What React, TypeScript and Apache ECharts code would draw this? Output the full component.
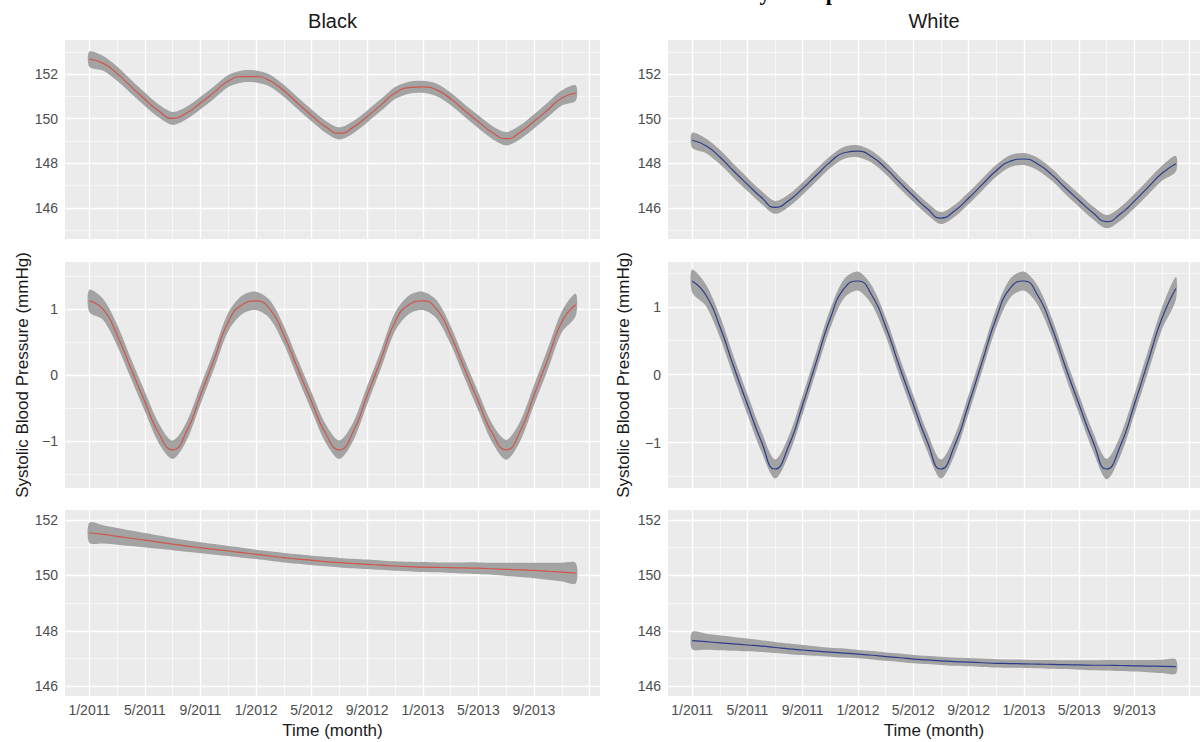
import React, { useEffect, useRef } from 'react';
import * as echarts from 'echarts';

// ---------- data ----------
const MONTHS = [
  '1/2011', '2/2011', '3/2011', '4/2011', '5/2011', '6/2011', '7/2011', '8/2011', '9/2011', '10/2011', '11/2011', '12/2011',
  '1/2012', '2/2012', '3/2012', '4/2012', '5/2012', '6/2012', '7/2012', '8/2012', '9/2012', '10/2012', '11/2012', '12/2012',
  '1/2013', '2/2013', '3/2013', '4/2013', '5/2013', '6/2013', '7/2013', '8/2013', '9/2013', '10/2013', '11/2013', '12/2013',
];
const X_TICK_POS = [0, 4, 8, 12, 16, 20, 24, 28, 32];
const X_TICK_LABELS = ['1/2011', '5/2011', '9/2011', '1/2012', '5/2012', '9/2012', '1/2013', '5/2013', '9/2013'];
const X_MAJOR_GRID = [0, 4, 8, 12, 16, 20, 24, 28, 32, 36];
const X_MINOR_GRID = [2, 6, 10, 14, 18, 22, 26, 30, 34];

const BLACK_OBSERVED = [
  152.67, 152.48, 152.02, 151.44, 150.87, 150.34, 150.01, 150.25, 150.70, 151.19, 151.69, 151.89,
  151.89, 151.70, 151.25, 150.69, 150.14, 149.64, 149.34, 149.62, 150.10, 150.62, 151.15, 151.39,
  151.43, 151.29, 150.89, 150.37, 149.86, 149.38, 149.10, 149.39, 149.88, 150.40, 150.93, 151.15,
];
const WHITE_OBSERVED = [
  149.03, 148.78, 148.28, 147.65, 147.05, 146.47, 146.02, 146.33, 146.87, 147.47, 148.06, 148.47,
  148.54, 148.29, 147.78, 147.15, 146.54, 145.97, 145.54, 145.87, 146.43, 147.05, 147.66, 148.09,
  148.19, 147.97, 147.50, 146.90, 146.33, 145.78, 145.38, 145.73, 146.30, 146.93, 147.55, 147.98,
];
const BLACK_SEASONAL = [
  1.13, 1.00, 0.61, 0.10, -0.40, -0.88, -1.13, -0.85, -0.30, 0.25, 0.81, 1.07,
  1.13, 1.00, 0.61, 0.10, -0.40, -0.88, -1.13, -0.85, -0.30, 0.25, 0.81, 1.07,
  1.13, 1.00, 0.61, 0.10, -0.40, -0.88, -1.13, -0.85, -0.30, 0.25, 0.81, 1.07,
];
const WHITE_SEASONAL = [
  1.38, 1.17, 0.71, 0.12, -0.44, -0.98, -1.39, -1.04, -0.44, 0.20, 0.83, 1.27,
  1.38, 1.17, 0.71, 0.12, -0.44, -0.98, -1.39, -1.04, -0.44, 0.20, 0.83, 1.27,
  1.38, 1.17, 0.71, 0.12, -0.44, -0.98, -1.39, -1.04, -0.44, 0.20, 0.83, 1.27,
];
const BLACK_TREND = [
  151.54, 151.48, 151.41, 151.34, 151.27, 151.20, 151.13, 151.06, 151.00, 150.94, 150.88, 150.82,
  150.76, 150.70, 150.64, 150.59, 150.54, 150.50, 150.46, 150.43, 150.40, 150.37, 150.34, 150.32,
  150.30, 150.29, 150.28, 150.27, 150.26, 150.24, 150.22, 150.20, 150.18, 150.15, 150.12, 150.08,
];
const WHITE_TREND = [
  147.65, 147.61, 147.57, 147.53, 147.49, 147.45, 147.40, 147.35, 147.31, 147.27, 147.23, 147.20,
  147.16, 147.12, 147.07, 147.03, 146.98, 146.95, 146.92, 146.89, 146.87, 146.85, 146.83, 146.82,
  146.81, 146.80, 146.79, 146.78, 146.77, 146.76, 146.76, 146.75, 146.74, 146.73, 146.72, 146.71,
];
// half widths of the grey confidence bands
const CI_OBSERVED = [
  0.34, 0.33, 0.32, 0.31, 0.30, 0.29, 0.29, 0.28, 0.28, 0.28, 0.27, 0.27,
  0.27, 0.27, 0.27, 0.27, 0.27, 0.27, 0.27, 0.27, 0.27, 0.27, 0.27, 0.27,
  0.27, 0.28, 0.28, 0.28, 0.29, 0.29, 0.30, 0.31, 0.32, 0.33, 0.34, 0.35,
];
const CI_SEASONAL = [
  0.17, 0.16, 0.16, 0.15, 0.15, 0.15, 0.14, 0.14, 0.14, 0.14, 0.14, 0.14,
  0.14, 0.14, 0.14, 0.14, 0.14, 0.14, 0.14, 0.14, 0.14, 0.14, 0.14, 0.14,
  0.14, 0.14, 0.14, 0.14, 0.14, 0.14, 0.15, 0.15, 0.15, 0.16, 0.16, 0.17,
];
const CI_TREND_BLACK = [
  0.36, 0.33, 0.30, 0.28, 0.26, 0.24, 0.22, 0.21, 0.20, 0.19, 0.18, 0.18,
  0.17, 0.17, 0.17, 0.17, 0.17, 0.17, 0.17, 0.17, 0.17, 0.17, 0.17, 0.17,
  0.18, 0.18, 0.19, 0.20, 0.21, 0.22, 0.24, 0.26, 0.28, 0.31, 0.34, 0.37,
];
const CI_TREND_WHITE = [
  0.31, 0.29, 0.27, 0.25, 0.23, 0.21, 0.20, 0.19, 0.18, 0.17, 0.16, 0.16,
  0.15, 0.15, 0.15, 0.15, 0.15, 0.15, 0.15, 0.15, 0.15, 0.15, 0.15, 0.15,
  0.15, 0.15, 0.16, 0.16, 0.17, 0.18, 0.19, 0.20, 0.21, 0.22, 0.24, 0.26,
];

const ROW1_TICKS = [146, 148, 150, 152];
const ROW1_MINOR = [145, 147, 149, 151, 153];
const ROW2_TICKS = [-1, 0, 1];
const ROW2_MINOR = [-1.5, -0.5, 0.5, 1.5];
const ROW3_TICKS = [146, 148, 150, 152];
const ROW3_MINOR = [147, 149, 151];

const GROUPS = ['Black', 'White'];

// ---------- style ----------
const FONT = '"Liberation Sans", Arial, Helvetica, sans-serif';
const PANEL_BG = '#ebebeb';
const BAND = '#a3a3a3';
const RED = '#d0554a';
const BLUE = '#2e3c8c';
const TICK_COLOR = '#4d4d4d';
const SMOOTH = 0.55;

type Panel = {
  grid: { left: number; top: number; width: number; height: number };
  yMin: number;
  yMax: number;
  mean: number[];
  ci: number[];
  color: string;
  yTicks: number[];
  yMinor: number[];
  showX: boolean;
};

const COLS = [
  { left: 65, width: 535 },
  { left: 668, width: 532 },
];
const ROWS = [
  { top: 40, height: 199 },
  { top: 262, height: 226 },
  { top: 510, height: 186 },
];

const PANELS: Panel[] = [
  { grid: { ...COLS[0], ...ROWS[0] }, yMin: 144.6, yMax: 153.53, mean: BLACK_OBSERVED, ci: CI_OBSERVED, color: RED, yTicks: ROW1_TICKS, yMinor: ROW1_MINOR, showX: false },
  { grid: { ...COLS[1], ...ROWS[0] }, yMin: 144.6, yMax: 153.53, mean: WHITE_OBSERVED, ci: CI_OBSERVED, color: BLUE, yTicks: ROW1_TICKS, yMinor: ROW1_MINOR, showX: false },
  { grid: { ...COLS[0], ...ROWS[1] }, yMin: -1.71, yMax: 1.72, mean: BLACK_SEASONAL, ci: CI_SEASONAL, color: RED, yTicks: ROW2_TICKS, yMinor: ROW2_MINOR, showX: false },
  { grid: { ...COLS[1], ...ROWS[1] }, yMin: -1.67, yMax: 1.66, mean: WHITE_SEASONAL, ci: CI_SEASONAL, color: BLUE, yTicks: ROW2_TICKS, yMinor: ROW2_MINOR, showX: false },
  { grid: { ...COLS[0], ...ROWS[2] }, yMin: 145.65, yMax: 152.36, mean: BLACK_TREND, ci: CI_TREND_BLACK, color: RED, yTicks: ROW3_TICKS, yMinor: ROW3_MINOR, showX: true },
  { grid: { ...COLS[1], ...ROWS[2] }, yMin: 145.65, yMax: 152.36, mean: WHITE_TREND, ci: CI_TREND_WHITE, color: BLUE, yTicks: ROW3_TICKS, yMinor: ROW3_MINOR, showX: true },
];

function buildOption(): echarts.EChartsOption {
  const grid: any[] = [];
  const xAxis: any[] = [];
  const yAxis: any[] = [];
  const series: any[] = [];

  PANELS.forEach((p, i) => {
    grid.push({ ...p.grid, show: true, backgroundColor: PANEL_BG, borderWidth: 0, containLabel: false });
    xAxis.push({
      type: 'value',
      gridIndex: i,
      min: -1.75,
      max: 36.75,
      axisLine: { show: false },
      axisTick: { show: false },
      splitLine: { show: false },
      axisLabel: {
        show: p.showX,
        customValues: X_TICK_POS,
        color: TICK_COLOR,
        fontSize: 14,
        fontFamily: FONT,
        margin: 7,
        formatter: (v: number) => {
          const k = X_TICK_POS.indexOf(Math.round(v));
          return k >= 0 ? X_TICK_LABELS[k] : '';
        },
      },
    });
    yAxis.push({
      type: 'value',
      gridIndex: i,
      min: p.yMin,
      max: p.yMax,
      axisLine: { show: false },
      axisTick: { show: false },
      splitLine: { show: false },
      axisLabel: {
        customValues: p.yTicks,
        color: TICK_COLOR,
        fontSize: 14,
        fontFamily: FONT,
        margin: 7,
        formatter: (v: number) => (v < 0 ? '\u2212' + Math.abs(v) : String(v)),
      },
    });

    const gridLines: any[] = [];
    X_MAJOR_GRID.forEach((v) => gridLines.push({ xAxis: v, lineStyle: { width: 1.3 } }));
    X_MINOR_GRID.forEach((v) => gridLines.push({ xAxis: v, lineStyle: { width: 0.6 } }));
    p.yTicks.forEach((v) => gridLines.push({ yAxis: v, lineStyle: { width: 1.3 } }));
    p.yMinor.forEach((v) => gridLines.push({ yAxis: v, lineStyle: { width: 0.6 } }));

    series.push({
      type: 'line',
      xAxisIndex: i,
      yAxisIndex: i,
      data: [],
      z: 1,
      silent: true,
      markLine: {
        z: 1,
        silent: true,
        symbol: ['none', 'none'],
        label: { show: false },
        lineStyle: { color: '#ffffff', type: 'solid' },
        emphasis: { disabled: true },
        data: gridLines,
      },
    });

    // confidence band drawn as one polygon through the axis scales
    const lower = p.mean.map((m, k) => m - p.ci[k]);
    const upper = p.mean.map((m, k) => m + p.ci[k]);
    series.push({
      type: 'custom',
      coordinateSystem: 'cartesian2d',
      xAxisIndex: i,
      yAxisIndex: i,
      data: p.mean.map((_, k) => [k, lower[k], upper[k]]),
      encode: { x: 0, y: [1, 2] },
      z: 2,
      silent: true,
      clip: true,
      renderItem: (params: any, api: any) => {
        if (params.dataIndex !== 0) return null;
        const top = upper.map((v, k) => api.coord([k, v]));
        const bottom = lower.map((v, k) => api.coord([k, v]));
        const pts = top.concat(bottom.reverse());
        return {
          type: 'polygon',
          shape: { points: pts, smooth: 0.3 },
          style: { fill: BAND, stroke: 'none' },
        };
      },
    });
    series.push({
      type: 'line',
      xAxisIndex: i,
      yAxisIndex: i,
      name: GROUPS[i % 2],
      data: p.mean.map((m, k) => [k, m]),
      smooth: SMOOTH,
      symbol: 'none',
      lineStyle: { color: p.color, width: 1.2 },
      z: 3,
      silent: true,
    });
  });

  const titleColor = '#1a1a1a';
  const graphic: any[] = [
    {
      type: 'text',
      x: 838,
      y: 3,
      style: {
        text: 'Blood Pressure by Group',
        font: 'bold 22px "Liberation Serif", "Times New Roman", serif',
        fill: '#000000',
        align: 'right',
        verticalAlign: 'bottom',
      },
    },
  ];
  COLS.forEach((c, ci) => {
    const cx = c.left + c.width / 2;
    graphic.push({
      type: 'text',
      x: cx,
      y: 21,
      style: { text: GROUPS[ci], fontSize: 20, fontFamily: FONT, fill: titleColor, align: 'center', verticalAlign: 'middle' },
    });
    graphic.push({
      type: 'text',
      x: cx,
      y: 730,
      style: { text: 'Time (month)', fontSize: 17, fontFamily: FONT, fill: titleColor, align: 'center', verticalAlign: 'middle' },
    });
  });
  [22, 623].forEach((x) => {
    graphic.push({
      type: 'text',
      x,
      y: 375,
      rotation: Math.PI / 2,
      style: {
        text: 'Systolic Blood Pressure (mmHg)',
        fontSize: 17,
        fontFamily: FONT,
        fill: titleColor,
        align: 'center',
        verticalAlign: 'middle',
      },
    });
  });

  return {
    animation: false,
    backgroundColor: '#ffffff',
    grid,
    xAxis,
    yAxis,
    series,
    graphic,
  } as any;
}

export default function App() {
  const ref = useRef<HTMLDivElement>(null);
  useEffect(() => {
    if (!ref.current) return;
    const chart = echarts.init(ref.current, null, { renderer: 'svg' });
    chart.setOption(buildOption());
    return () => chart.dispose();
  }, []);
  return (
    <div
      ref={ref}
      style={{ position: 'absolute', left: 0, top: 0, width: 1201, height: 742 }}
      data-months={MONTHS.length}
    />
  );
}
